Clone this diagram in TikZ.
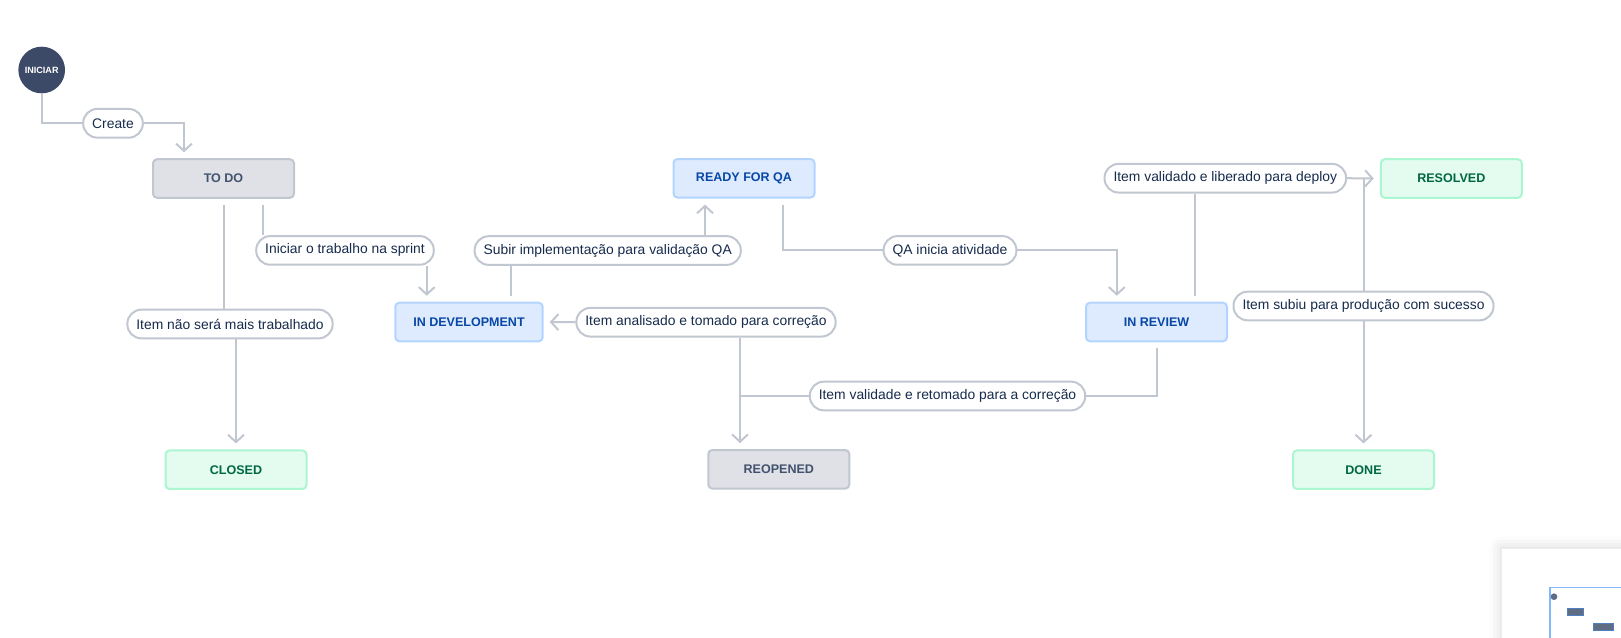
\documentclass[tikz,border=0pt]{standalone}
\usepackage{fontspec}
\setmainfont{Liberation Sans}
\usetikzlibrary{arrows.meta,calc,shadows.blur}
\definecolor{gfill}{HTML}{DFE1E6}
\definecolor{gline}{HTML}{C1C7D0}
\definecolor{gtext}{HTML}{42526E}
\definecolor{bfill}{HTML}{DEEBFF}
\definecolor{bline}{HTML}{B3D4FF}
\definecolor{btext}{HTML}{0747A6}
\definecolor{nfill}{HTML}{E3FCEF}
\definecolor{nline}{HTML}{ABF5D1}
\definecolor{ntext}{HTML}{006644}
\definecolor{conncol}{HTML}{C1C7D0}
\definecolor{ltext}{HTML}{172B4D}
\definecolor{initcol}{HTML}{3C4A68}
\definecolor{mmdark}{HTML}{5E6C84}
\definecolor{mmblue}{HTML}{4C9AFF}
\begin{document}
\begin{tikzpicture}[x=0.75pt,y=-0.75pt,
  statebox/.style={draw, line width=1.5pt, rounded corners=3pt, minimum width=105.75pt,
    minimum height=28.9pt, inner xsep=13.5pt, inner ysep=0pt,
    font=\fontsize{9.4}{11}\selectfont\bfseries},
  greybox/.style={statebox, fill=gfill, draw=gline, text=gtext},
  bluebox/.style={statebox, fill=bfill, draw=bline, text=btext},
  greenbox/.style={statebox, fill=nfill, draw=nline, text=ntext},
  lbl/.style={draw=conncol, fill=white, line width=1.5pt, rounded corners=10.5pt,
    minimum height=21.5pt, inner xsep=6.75pt, inner ysep=0pt, text=ltext,
    font=\fontsize{10.4}{12}\selectfont},
  conn/.style={draw=conncol, line width=1.5pt, shorten <=4.5pt},
  arr/.style={conn, -{Straight Barb[length=5.5pt,width=12pt]}, shorten >=4.5pt}
]
\useasboundingbox (0,0) rectangle (1621,637);

% start
\node[circle, fill=initcol, minimum size=35pt, inner sep=0pt, text=white,
  font=\fontsize{6.8}{8}\selectfont\bfseries] (init) at (41.7,70) {INICIAR};

% states
\node[greybox]  (todo)     at (223.5,178.5) {TO DO};
\node[bluebox]  (ready)    at (744,178.3)   {READY FOR QA};
\node[greenbox] (resolved) at (1451.3,178.5) {RESOLVED};
\node[bluebox]  (indev)    at (469,322)     {IN DEVELOPMENT};
\node[bluebox]  (inreview) at (1156.5,322)  {IN REVIEW};
\node[greenbox] (closed)   at (236,469.7)   {CLOSED};
\node[greybox]  (reopened) at (778.8,469.3) {REOPENED};
\node[greenbox] (done)     at (1363.5,469.7) {DONE};

% labels
\node[lbl] (lCreate)   at (113,123.3)    {Create};
\node[lbl] (lSprint)   at (345,250.4)    {Iniciar o trabalho na sprint};
\node[lbl] (lSubir)    at (607.7,250.5)  {Subir implementação para validação QA};
\node[lbl] (lQA)       at (950,250.4)    {QA inicia atividade};
\node[lbl] (lNao)      at (230,324)      {Item não será mais trabalhado};
\node[lbl] (lAnal)     at (706,322.2)    {Item analisado e tomado para correção};
\node[lbl] (lValidade) at (947.5,396)    {Item validade e retomado para a correção};
\node[lbl] (lDeploy)   at (1225.3,178.2) {Item validado e liberado para deploy};
\node[lbl] (lSubiu)    at (1363.5,306)   {Item subiu para produção com sucesso};

% connector anchor points
\coordinate (cTodoIn)  at ($(todo.north)+(-39.5,0)$);
\coordinate (cTodoOut) at ($(todo.south)+(39,0)$);
\coordinate (cDevIn)   at ($(indev.north)+(-42.3,0)$);
\coordinate (cDevOut)  at ($(indev.north)+(41.7,0)$);
\coordinate (cQaIn)    at ($(ready.south)+(-39,0)$);
\coordinate (cQaOut)   at ($(ready.south)+(39.3,0)$);
\coordinate (cRevIn)   at ($(inreview.north)+(-39.7,0)$);
\coordinate (cRevOut)  at ($(inreview.north)+(38.5,0)$);
\coordinate (cReop)    at ($(reopened.north)+(-38.8,0)$);
\coordinate (jres)     at (lSubiu |- resolved.west);

% connectors
\draw[conn, shorten <=0pt] (init.south) |- (lCreate.west);
\draw[arr, shorten <=0pt] (lCreate.east) -| (cTodoIn);

\draw[conn] (todo.south) -- (todo.south |- lNao.north);
\draw[arr, shorten <=0pt] (closed.north |- lNao.south) -- (closed.north);

\draw[conn] (cTodoOut) -- (cTodoOut |- lSprint.north);
\draw[arr, shorten <=0pt] (cDevIn |- lSprint.south) -- (cDevIn);

\draw[conn] (cDevOut) -- (cDevOut |- lSubir.south);
\draw[arr, shorten <=0pt] (cQaIn |- lSubir.north) -- (cQaIn);

\draw[conn] (cQaOut) |- (lQA.west);
\draw[arr, shorten <=0pt] (lQA.east) -| (cRevIn);

\draw[conn] (cReop) -- (cReop |- lAnal.south);
\draw[arr, shorten <=0pt] (lAnal.west) -- (indev.east);

\draw[conn] (inreview.south) |- (lValidade.east);
\draw[arr, shorten <=0pt] (lValidade.west) -| (cReop);

\draw[conn] (cRevOut) -- (cRevOut |- lDeploy.south);
\draw[arr, shorten <=0pt] (lDeploy.east) -- (resolved.west);

\draw[conn, shorten <=0pt] (jres) -- (jres |- lSubiu.north);
\draw[arr, shorten <=0pt] (lSubiu.south) -- (lSubiu.south |- done.north);

% minimap panel
\fill[white, blur shadow={shadow xshift=0pt, shadow yshift=0pt, shadow blur radius=9pt, shadow opacity=18}]
  (1501.7,548.3) rectangle (1660,680);
\draw[line width=0.6pt, draw=gray!15] (1501.7,680) -- (1501.7,548.3) -- (1660,548.3);
\draw[draw=mmblue!70, line width=1.1pt] (1550,680) -- (1550,587.3) -- (1660,587.3);
\fill[mmdark] (1554,596.7) circle (2.5pt);
\draw[fill=mmdark, draw=btext!70, line width=0.6pt] (1567.7,608) rectangle (1583.3,615);
\draw[fill=mmdark, draw=btext!70, line width=0.6pt] (1593.3,623.3) rectangle (1613.3,630);
\end{tikzpicture}
\end{document}
